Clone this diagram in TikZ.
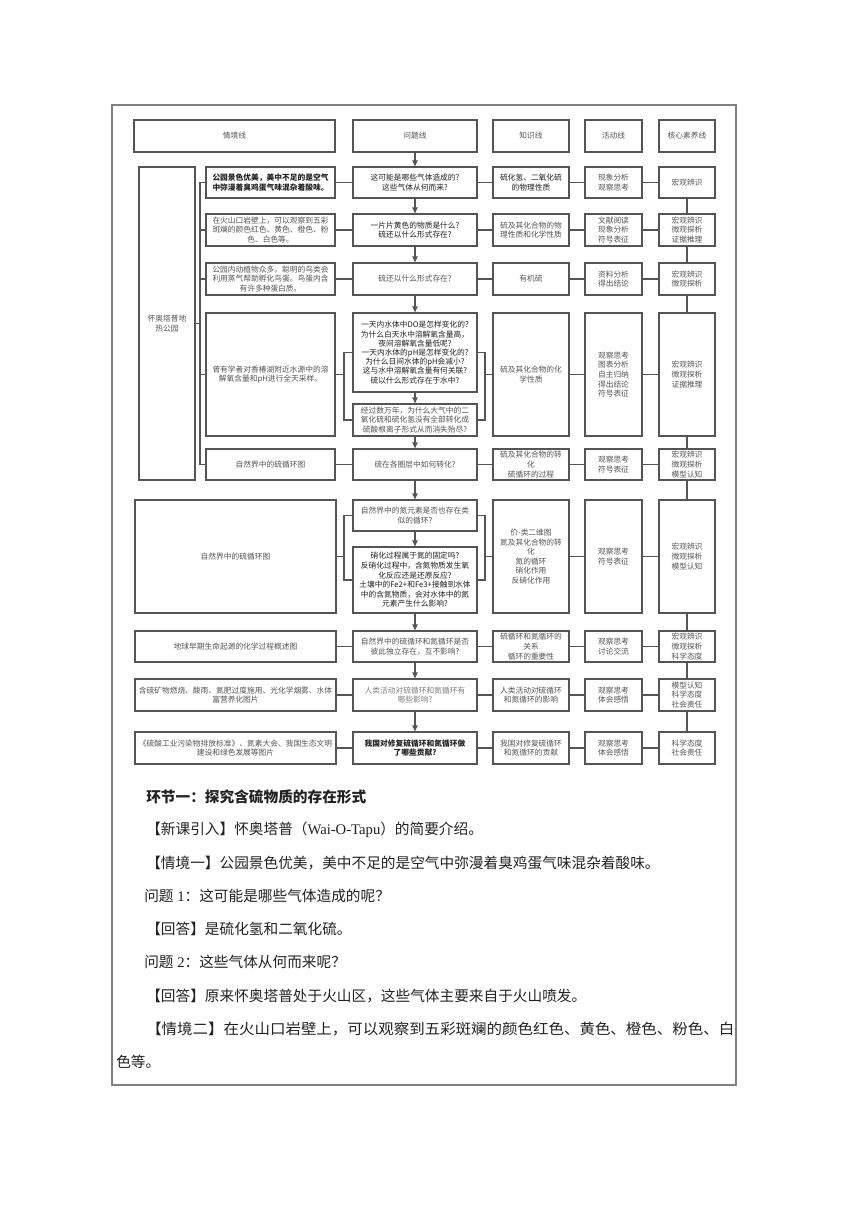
\documentclass[tikz,border=0pt]{standalone}
\usepackage{fontspec}
\usepackage{graphicx}
\setmainfont{Liberation Serif}
\newfontfamily\cjk{Noto Sans CJK SC}
\usetikzlibrary{arrows.meta}
\definecolor{ln}{HTML}{555555}
\definecolor{tx}{HTML}{555555}
\definecolor{dk}{HTML}{222222}
\definecolor{frame}{HTML}{808080}
\newcommand\bx[7][]{\node[box,minimum width=#5*0.75pt,minimum height=#6*0.75pt,#1] (#2) at (#3,#4) {#7};}
\begin{document}
\begin{tikzpicture}[x=0.75pt,y=-0.75pt,
  box/.style={draw=ln,line width=0.9pt,inner sep=0pt,align=center,text=tx,font=\cjk\fontsize{5.8}{7.2}\selectfont},
  conn/.style={draw=ln,line width=0.9pt},
  arr/.style={conn,-{Triangle[length=4.5pt,width=4pt]}},
  body/.style={anchor=west,inner sep=0pt,text=dk,font=\cjk\fontsize{11}{13}\selectfont}
]
\useasboundingbox (0,0) rectangle (860,1216);
\fill[white] (0,0) rectangle (860,1216);
\draw[draw=frame,line width=0.8pt] (112,105) rectangle (736,1085);

% headers
\bx{hs}{234.5}{136}{201}{32}{情境线}
\bx{hq}{415}{136}{124}{32}{问题线}
\bx{hk}{531}{136}{76}{32}{知识线}
\bx{ha}{613.5}{136}{57}{32}{活动线}
\bx{hc}{687}{136}{56}{32}{核心素养线}

% group
\bx{g}{167}{323.5}{56}{313}{怀奥塔普地\\热公园}

% scenario column
\bx[text=dk,font=\cjk\bfseries\fontsize{5.8}{7.2}\selectfont]{s1}{270.5}{182.5}{129}{31}{公园景色优美，美中不足的是空气\\中弥漫着臭鸡蛋气味混杂着酸味。}
\bx{s2}{270.5}{230}{129}{32}{在火山口岩壁上，可以观察到五彩\\斑斓的颜色红色、黄色、橙色、粉\\色、白色等。}
\bx{s3}{270.5}{279}{129}{32}{公园内动植物众多。聪明的鸟类会\\利用蒸气帮助孵化鸟蛋。鸟蛋内含\\有许多种蛋白质。}
\bx{s4}{270.5}{374.5}{129}{123}{曾有学者对香椿湖附近水源中的溶\\解氧含量和pH进行全天采样。}
\bx{s5}{270.5}{464.5}{129}{31}{自然界中的硫循环图}
\bx{s6}{235.5}{556.5}{201}{113}{自然界中的硫循环图}
\bx{s7}{235.5}{646.5}{201}{31}{地球早期生命起源的化学过程概述图}
\bx{s8}{235.5}{695}{201}{32}{含硫矿物燃烧、酸雨、氮肥过度施用、光化学烟雾、水体\\富营养化图片}
\bx{s9}{235.5}{748}{201}{32}{《硫酸工业污染物排放标准》、氮素大会、我国生态文明\\建设和绿色发展等图片}

% question column
\bx[text=dk]{q1}{415}{182.5}{124}{31}{这可能是哪些气体造成的?\\这些气体从何而来?}
\bx[text=dk]{q2}{415}{230}{124}{32}{一片片黄色的物质是什么?\\硫还以什么形式存在?}
\bx{q3}{415}{279}{124}{32}{硫还以什么形式存在?}
\bx[text=dk,font=\cjk\fontsize{5.8}{6.9}\selectfont]{q4a}{415}{352.5}{124}{79}{一天内水体中DO是怎样变化的?\\为什么白天水中溶解氧含量高，\\夜间溶解氧含量低呢?\\一天内水体的pH是怎样变化的?\\为什么日间水体的pH会减小?\\这与水中溶解氧含量有何关联?\\硫以什么形式存在于水中?}
\bx{q4b}{415}{420}{124}{32}{经过数万年，为什么大气中的二\\氧化硫和硫化氢没有全部转化成\\硫酸根离子形式从而消失殆尽?}
\bx{q5}{415}{464.5}{124}{31}{硫在各圈层中如何转化?}
\bx{q6a}{415}{515.5}{124}{31}{自然界中的氮元素是否也存在类\\似的循环?}
\bx[text=dk]{q6b}{415}{580}{124}{66}{硝化过程属于氮的固定吗?\\反硝化过程中，含氮物质发生氧\\化反应还是还原反应?\\土壤中的Fe2+和Fe3+接触到水体\\中的含氮物质，会对水体中的氮\\元素产生什么影响?}
\bx{q7}{415}{646.5}{124}{31}{自然界中的硫循环和氮循环是否\\彼此独立存在，互不影响?}
\bx[text=gray]{q8}{415}{695}{124}{32}{人类活动对硫循环和氮循环有\\哪些影响?}
\bx[text=dk,font=\cjk\bfseries\fontsize{5.8}{7.2}\selectfont]{q9}{415}{748}{124}{32}{我国对修复硫循环和氮循环做\\了哪些贡献?}

% knowledge column
\bx[text=dk]{k1}{531}{182.5}{76}{31}{硫化氢、二氧化硫\\的物理性质}
\bx{k2}{531}{230}{76}{32}{硫及其化合物的物\\理性质和化学性质}
\bx{k3}{531}{279}{76}{32}{有机硫}
\bx{k4}{531}{374.5}{76}{123}{硫及其化合物的化\\学性质}
\bx{k5}{531}{464.5}{76}{31}{硫及其化合物的转\\化\\硫循环的过程}
\bx{k6}{531}{556.5}{76}{113}{价-类二维图\\氮及其化合物的转\\化\\氮的循环\\硝化作用\\反硝化作用}
\bx{k7}{531}{646.5}{76}{31}{硫循环和氮循环的\\关系\\循环的重要性}
\bx{k8}{531}{695}{76}{32}{人类活动对硫循环\\和氮循环的影响}
\bx{k9}{531}{748}{76}{32}{我国对修复硫循环\\和氮循环的贡献}

% activity column
\bx{a1}{613.5}{182.5}{57}{31}{现象分析\\观察思考}
\bx{a2}{613.5}{230}{57}{32}{文献阅读\\现象分析\\符号表征}
\bx{a3}{613.5}{279}{57}{32}{资料分析\\得出结论}
\bx{a4}{613.5}{374.5}{57}{123}{观察思考\\图表分析\\自主归纳\\得出结论\\符号表征}
\bx{a5}{613.5}{464.5}{57}{31}{观察思考\\符号表征}
\bx{a6}{613.5}{556.5}{57}{113}{观察思考\\符号表征}
\bx{a7}{613.5}{646.5}{57}{31}{观察思考\\讨论交流}
\bx{a8}{613.5}{695}{57}{32}{观察思考\\体会感悟}
\bx{a9}{613.5}{748}{57}{32}{观察思考\\体会感悟}

% core column
\bx{c1}{687}{182.5}{56}{31}{宏观辨识}
\bx{c2}{687}{230}{56}{32}{宏观辨识\\微观探析\\证据推理}
\bx{c3}{687}{279}{56}{32}{宏观辨识\\微观探析}
\bx{c4}{687}{374.5}{56}{123}{宏观辨识\\微观探析\\证据推理}
\bx{c5}{687}{464.5}{56}{31}{宏观辨识\\微观探析\\模型认知}
\bx{c6}{687}{556.5}{56}{113}{宏观辨识\\微观探析\\模型认知}
\bx{c7}{687}{646.5}{56}{31}{宏观辨识\\微观探析\\科学态度}
\bx{c8}{687}{695}{56}{32}{模型认知\\科学态度\\社会责任}
\bx{c9}{687}{748}{56}{32}{科学态度\\社会责任}

% row connectors
\foreach \r in {1,2,3,5,7,8,9}{
  \draw[conn] (s\r) -- (q\r);
  \draw[conn] (q\r) -- (k\r);
}
\foreach \r in {1,...,9}{
  \draw[conn] (k\r) -- (a\r);
  \draw[conn] (a\r) -- (c\r);
}
\foreach \r [remember=\r as \p (initially 1)] in {2,...,9}{
  \draw[conn] (c\p.south) -- (c\r.north);
}

% brackets
\coordinate (B) at (200,0);
\coordinate (L) at (344,0);
\coordinate (R) at (485,0);
\draw[conn] (s1.west) -- (s1.west -| B) -- (s5.west -| B) -- (s5.west);
\draw[conn] (s2.west) -- (s2.west -| B);
\draw[conn] (s3.west) -- (s3.west -| B);
\draw[conn] (s4.west) -- (s4.west -| B);
\draw[conn] (g.east) -- (g.east -| B);
\foreach \r in {4,6}{
  \draw[conn] (s\r.east) -- (s\r.east -| L);
  \draw[conn] (k\r.west) -- (k\r.west -| R);
}
\draw[conn] (q4a.west) -- (q4a.west -| L) -- (q4b.west -| L) -- (q4b.west);
\draw[conn] (q4a.east) -- (q4a.east -| R) -- (q4b.east -| R) -- (q4b.east);
\draw[conn] (q6a.west) -- (q6a.west -| L) -- (q6b.west -| L) -- (q6b.west);
\draw[conn] (q6a.east) -- (q6a.east -| R) -- (q6b.east -| R) -- (q6b.east);

% question arrows
\draw[arr] (hq) -- (q1);
\draw[arr] (q1) -- (q2);
\draw[arr] (q2) -- (q3);
\draw[arr] (q3) -- (q4a);
\draw[arr] (q4a) -- (q4b);
\draw[arr] (q4b) -- (q5);
\draw[arr] (q5) -- (q6a);
\draw[arr] (q6a) -- (q6b);
\draw[arr] (q6b) -- (q7);
\draw[arr] (q7) -- (q8);
\draw[arr] (q8) -- (q9);

% body text
\node[body,font=\cjk\bfseries\fontsize{11}{13}\selectfont] (t1) at (146,797) {环节一：探究含硫物质的存在形式};
\node[body] (t2) at (146,830) {【新课引入】怀奥塔普（{\rmfamily Wai-O-Tapu}）的简要介绍。};
\node[body] (t3) at (146,863) {【情境一】公园景色优美，美中不足的是空气中弥漫着臭鸡蛋气味混杂着酸味。};
\node[body] (t4) at (144,896) {问题{\rmfamily\ 1}：这可能是哪些气体造成的呢？};
\node[body] (t5) at (146,929) {【回答】是硫化氢和二氧化硫。};
\node[body] (t6) at (144,962) {问题{\rmfamily\ 2}：这些气体从何而来呢？};
\node[body] (t7) at (146,996) {【回答】原来怀奥塔普处于火山区，这些气体主要来自于火山喷发。};
\node[body] (t8) at (146,1029) {\resizebox{441pt}{\height}{【情境二】在火山口岩壁上，可以观察到五彩斑斓的颜色红色、黄色、橙色、粉色、白}};
\node[body] (t9) at (116,1062) {色等。};
\end{tikzpicture}
\end{document}
